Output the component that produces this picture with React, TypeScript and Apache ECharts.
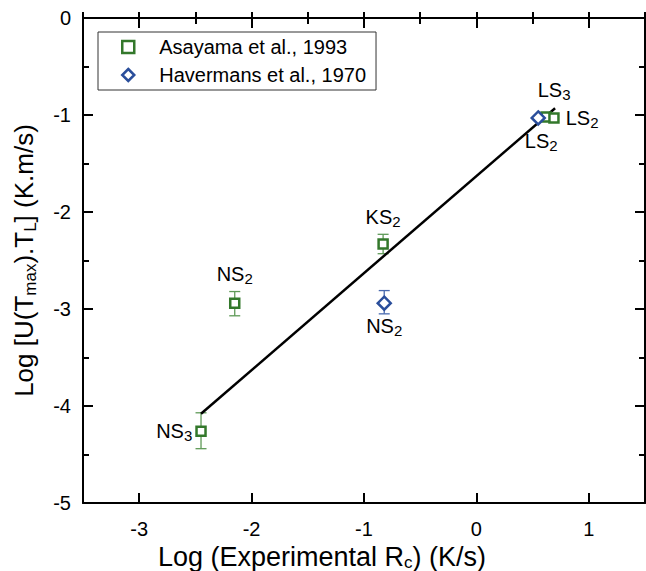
import React, { useEffect, useRef } from 'react';
import * as echarts from 'echarts';

const FONT = '"Liberation Sans", Arial, Helvetica, sans-serif';
const GREEN = '#33782b';
const GREEN_ERR = '#5f9a58';
const BLUE = '#2a4e9b';
const BLUE_ERR = '#4a6aaf';

// axis ticks
const xMajorTicks = [-3, -2, -1, 0, 1];

// Asayama et al., 1993
const asayamaX = [-2.45, -2.15, -0.83, 0.62, 0.69];
const asayamaY = [-4.26, -2.94, -2.33, -1.02, -1.03];
const asayamaLabels = ['NS3', 'NS2', 'KS2', 'LS3', 'LS2'];
const asayamaErrLow = [-4.44, -3.07, -2.43];
const asayamaErrHigh = [-4.07, -2.82, -2.23];

// Havermans et al., 1970
const havermansX = [-0.82, 0.55];
const havermansY = [-2.94, -1.03];
const havermansLabels = ['NS2', 'LS2'];
const havermansErrLow = [-3.05];
const havermansErrHigh = [-2.81];

// fitted line
const fitX = [-2.45, 0.7];
const fitY = [-4.08, -0.93];

// label placement (style only)
const asayamaLabelPlace = [
  { position: 'left', distance: 3, offset: [0, 0] },
  { position: 'top', distance: 11, offset: [0, 0] },
  { position: 'top', distance: 9, offset: [0, 0] },
  { position: 'top', distance: 9, offset: [8, 0] },
  { position: 'right', distance: 6, offset: [0, 0] },
];
const havermansLabelPlace = [
  { position: 'bottom', distance: 3, offset: [0, 0] },
  { position: 'bottom', distance: 3, offset: [3, 0] },
];

const subRich = {
  m: { fontSize: 20, lineHeight: 24, fontFamily: FONT, color: '#000' },
  s: { fontSize: 15, lineHeight: 12, verticalAlign: 'bottom', fontFamily: FONT, color: '#000' },
};

const fmtSub = (l: string) => `{m|${l.slice(0, -1)}}{s|${l.slice(-1)}}`;

function errSeries(name: string, xs: number[], lo: number[], hi: number[], color: string) {
  return {
    name,
    type: 'custom',
    z: 1,
    silent: true,
    data: lo.map((v, i) => [xs[i], v, hi[i]]),
    encode: { x: 0, y: [1, 2] },
    renderItem: (params: any, api: any) => {
      const x = api.value(0);
      const pLo = api.coord([x, api.value(1)]);
      const pHi = api.coord([x, api.value(2)]);
      const w = 5.5;
      const st = { stroke: color, lineWidth: 1.3 };
      return {
        type: 'group',
        children: [
          { type: 'line', shape: { x1: pLo[0], y1: pLo[1], x2: pHi[0], y2: pHi[1] }, style: st },
          { type: 'line', shape: { x1: pLo[0] - w, y1: pLo[1], x2: pLo[0] + w, y2: pLo[1] }, style: st },
          { type: 'line', shape: { x1: pHi[0] - w, y1: pHi[1], x2: pHi[0] + w, y2: pHi[1] }, style: st },
        ],
      };
    },
  };
}

export default function App() {
  const ref = useRef<HTMLDivElement>(null);
  useEffect(() => {
    if (!ref.current) return;
    const chart = echarts.init(ref.current, null, { renderer: 'svg' });
    const axisLine = { show: true, onZero: false, lineStyle: { color: '#000', width: 2 } };
    const tickStyle = { color: '#000', width: 2 };
    const xBase = { type: 'value', min: -3.5, max: 1.5, interval: 0.5, splitLine: { show: false } };
    const yBase = { type: 'value', min: -5, max: 0, interval: 1, splitLine: { show: false } };
    const option: any = {
      animation: false,
      backgroundColor: '#fff',
      textStyle: { fontFamily: FONT },
      grid: { left: 83, right: 1, top: 18, bottom: 68, containLabel: false, outerBoundsMode: 'none' },
      legend: {
        data: ['Asayama et al., 1993', 'Havermans et al., 1970'],
        orient: 'vertical',
        left: 98,
        top: 32,
        padding: [5, 10, 5, 23],
        itemGap: 8,
        itemWidth: 12,
        itemHeight: 12,
        borderColor: '#333',
        borderWidth: 1,
        backgroundColor: '#fff',
        itemStyle: { borderWidth: 2.5 },
        textStyle: { fontSize: 20, fontFamily: FONT, color: '#000', padding: [0, 0, 0, 20] },
      },
      xAxis: [
        {
          ...xBase,
          position: 'bottom',
          axisLine,
          axisTick: { show: true, inside: true, length: 10, customValues: xMajorTicks, lineStyle: tickStyle },
          axisLabel: { show: true, customValues: xMajorTicks, fontSize: 20, color: '#000', margin: 16, fontFamily: FONT },
          name: 'Log (Experimental R{s|c}) (K/s)',
          nameLocation: 'middle',
          nameGap: 35,
          nameTextStyle: {
            fontSize: 27,
            lineHeight: 27,
            color: '#000',
            fontFamily: FONT,
            padding: [0, 84, 0, 0],
            rich: { s: { fontSize: 17, lineHeight: 12, verticalAlign: 'bottom', fontFamily: FONT, color: '#000' } },
          },
        },
        {
          ...xBase,
          position: 'bottom',
          axisLine: { show: false },
          axisTick: { show: true, inside: true, length: 6, lineStyle: tickStyle },
          axisLabel: { show: false },
        },
        {
          ...xBase,
          position: 'top',
          axisLine,
          axisTick: { show: true, inside: true, length: 10, customValues: xMajorTicks, lineStyle: tickStyle },
          axisLabel: { show: false },
        },
        {
          ...xBase,
          position: 'top',
          axisLine: { show: false },
          axisTick: { show: true, inside: true, length: 6, lineStyle: tickStyle },
          axisLabel: { show: false },
        },
      ],
      yAxis: [
        {
          ...yBase,
          position: 'left',
          axisLine,
          axisTick: { show: true, inside: true, length: 10, lineStyle: tickStyle },
          minorTick: { show: true, splitNumber: 2, length: 6, lineStyle: tickStyle },
          minorSplitLine: { show: false },
          axisLabel: { show: true, fontSize: 20, color: '#000', margin: 12, fontFamily: FONT },
          name: 'Log [U(T{s|max}).T{s|L}] (K.m/s)',
          nameLocation: 'middle',
          nameGap: 44,
          nameRotate: 90,
          nameTextStyle: {
            fontSize: 26,
            lineHeight: 30,
            color: '#000',
            fontFamily: FONT,
            rich: { s: { fontSize: 17, lineHeight: 14, verticalAlign: 'bottom', fontFamily: FONT, color: '#000' } },
          },
        },
        {
          ...yBase,
          position: 'right',
          axisLine,
          axisTick: { show: true, inside: true, length: 10, lineStyle: tickStyle },
          minorTick: { show: true, splitNumber: 2, length: 6, lineStyle: tickStyle },
          minorSplitLine: { show: false },
          axisLabel: { show: false },
        },
      ],
      series: [
        errSeries('errA', asayamaX, asayamaErrLow, asayamaErrHigh, GREEN_ERR),
        errSeries('errH', havermansX, havermansErrLow, havermansErrHigh, BLUE_ERR),
        {
          name: 'fit',
          type: 'line',
          z: 2,
          silent: true,
          symbol: 'none',
          data: fitX.map((x, i) => [x, fitY[i]]),
          lineStyle: { color: '#000', width: 2.5 },
        },
        {
          name: 'Asayama et al., 1993',
          type: 'scatter',
          z: 3,
          symbol: 'rect',
          symbolSize: 9,
          itemStyle: { color: '#fff', borderColor: GREEN, borderWidth: 2.5, opacity: 1 },
          data: asayamaX.map((x, i) => ({
            value: [x, asayamaY[i]],
            label: {
              show: true,
              formatter: fmtSub(asayamaLabels[i]),
              rich: subRich,
              ...asayamaLabelPlace[i],
            },
          })),
        },
        {
          name: 'Havermans et al., 1970',
          type: 'scatter',
          z: 3,
          symbol: 'diamond',
          symbolSize: 13,
          itemStyle: { color: '#fff', borderColor: BLUE, borderWidth: 2.5, opacity: 1 },
          data: havermansX.map((x, i) => ({
            value: [x, havermansY[i]],
            label: {
              show: true,
              formatter: fmtSub(havermansLabels[i]),
              rich: subRich,
              ...havermansLabelPlace[i],
            },
          })),
        },
      ],
    };
    chart.setOption(option);
    return () => chart.dispose();
  }, []);
  return (
    <div
      ref={ref}
      style={{ position: 'absolute', left: 0, top: 0, width: 646, height: 571, background: '#fff' }}
    />
  );
}
